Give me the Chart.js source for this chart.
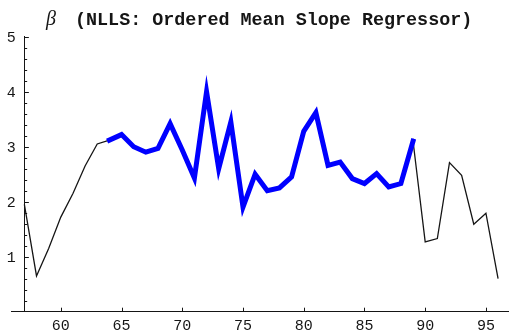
<!DOCTYPE html>
<html>
<head>
<meta charset="utf-8">
<script src="https://cdn.jsdelivr.net/npm/chart.js@4"></script>
<style>
  html, body { margin: 0; padding: 0; background: #fff; }
  #wrap { width: 509px; height: 334px; position: relative; }
</style>
</head>
<body>
<div id="wrap"><canvas id="c" width="509" height="334"></canvas></div>
<script>
// Years (19xx) and the estimated slope coefficient for each year
const years = [57, 58, 59, 60, 61, 62, 63, 64, 65, 66, 67, 68, 69, 70, 71, 72, 73, 74, 75, 76,
               77, 78, 79, 80, 81, 82, 83, 84, 85, 86, 87, 88, 89, 90, 91, 92, 93, 94, 95, 96];
const beta = [1.95, 0.65, 1.15, 1.72, 2.15, 2.65, 3.05, 3.12, 3.22, 3.00, 2.90, 2.97, 3.42, 2.94, 2.43, 4.00, 2.60, 3.45, 1.90, 2.50,
              2.20, 2.25, 2.45, 3.28, 3.62, 2.66, 2.72, 2.42, 2.33, 2.51, 2.27, 2.33, 3.10, 1.27, 1.33, 2.71, 2.48, 1.59, 1.79, 0.60];
// Sub-period drawn in bold
const highlightFrom = 64;
const highlightTo = 89;
// Axis tick labels
const xTicks = [60, 65, 70, 75, 80, 85, 90, 95];
const yTicks = [1, 2, 3, 4, 5];
const titleSymbol = 'β';
const titleText = '(NLLS: Ordered Mean Slope Regressor)';

const allPoints = years.map((x, i) => ({ x, y: beta[i] }));
const highlightPoints = allPoints.filter(p => p.x >= highlightFrom && p.x <= highlightTo);

const ink = '#151515';
const monoFont = '"Liberation Mono", "DejaVu Sans Mono", monospace';

// Inward tick marks, axis labels and the title
const decorations = {
  id: 'decorations',
  afterDraw(chart) {
    const { ctx } = chart;
    const xs = chart.scales.x, ys = chart.scales.y;
    const x0 = xs.getPixelForValue(years[0]);
    const yBase = ys.getPixelForValue(0);
    ctx.save();
    ctx.strokeStyle = ink;
    ctx.lineWidth = 1;
    // x ticks pointing up
    xTicks.forEach(v => {
      const px = Math.round(xs.getPixelForValue(v)) + 0.5;
      ctx.beginPath();
      ctx.moveTo(px, yBase);
      ctx.lineTo(px, yBase - 4);
      ctx.stroke();
    });
    // y ticks pointing right: majors at integers, minors every 0.2
    for (let k = 1; k <= 25; k++) {
      const v = k / 5;
      const py = Math.round(ys.getPixelForValue(v)) + 0.5;
      const len = (k % 5 === 0) ? 4.5 : 2.8;
      ctx.beginPath();
      ctx.moveTo(x0, py);
      ctx.lineTo(x0 + len, py);
      ctx.stroke();
    }
    ctx.fillStyle = ink;
    ctx.font = '15px ' + monoFont;
    // y labels, left of the axis
    ctx.textAlign = 'right';
    ctx.textBaseline = 'middle';
    yTicks.forEach(v => {
      ctx.fillText(String(v), x0 - 8.5, ys.getPixelForValue(v) + 1);
    });
    // x labels, below the axis
    ctx.textAlign = 'center';
    ctx.textBaseline = 'alphabetic';
    xTicks.forEach(v => {
      ctx.fillText(String(v), xs.getPixelForValue(v), yBase + 18);
    });
    // title
    ctx.textAlign = 'left';
    ctx.font = 'italic 20px "Liberation Serif", "DejaVu Serif", serif';
    ctx.fillText(titleSymbol, 46, 25);
    ctx.font = 'bold 18.4px ' + monoFont;
    ctx.fillText(titleText, 75, 25);
    ctx.restore();
  }
};

new Chart(document.getElementById('c'), {
  type: 'line',
  data: {
    datasets: [
      {
        data: highlightPoints,
        borderColor: '#0000ff',
        borderWidth: 5,
        borderJoinStyle: 'miter',
        borderCapStyle: 'square',
        pointRadius: 0,
        tension: 0,
        order: 0
      },
      {
        data: allPoints,
        borderColor: ink,
        borderWidth: 1.3,
        pointRadius: 0,
        tension: 0,
        order: 1
      }
    ]
  },
  options: {
    responsive: false,
    animation: false,
    events: [],
    layout: { padding: { left: 11, right: 0, top: 36.7, bottom: 22.3 } },
    plugins: { legend: { display: false }, title: { display: false }, tooltip: { enabled: false } },
    scales: {
      x: {
        type: 'linear',
        min: 55.9,
        max: 96.9,
        grid: { display: false, drawTicks: false },
        border: { display: true, color: ink, width: 1 },
        afterBuildTicks: s => { s.ticks = xTicks.map(v => ({ value: v })); },
        ticks: { display: false }
      },
      y: {
        type: 'linear',
        position: { x: 57 },
        min: 0,
        max: 5,
        grid: { display: false, drawTicks: false },
        border: { display: true, color: ink, width: 1 },
        afterBuildTicks: s => { s.ticks = yTicks.map(v => ({ value: v })); },
        ticks: { display: false }
      }
    }
  },
  plugins: [decorations]
});
</script>
</body>
</html>
